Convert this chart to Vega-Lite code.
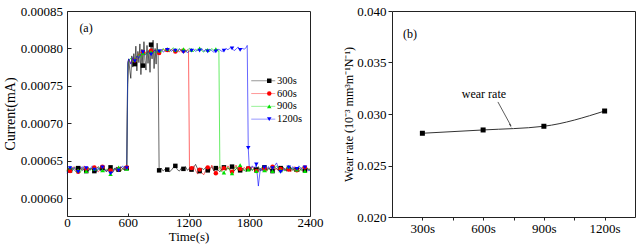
{
"$schema": "https://vega.github.io/schema/vega-lite/v6.json",
"padding": {"left": 2, "top": 4, "right": 0, "bottom": 0},
"autosize": {"type": "pad"},
"background": "white",
"config": {
  "font": "Liberation Serif",
  "view": {"stroke": "#222", "strokeWidth": 1},
  "axis": {"domain": false, "grid": false, "labelFont": "Liberation Serif", "titleFont": "Liberation Serif", "labelFontSize": 13, "titleFontWeight": "normal", "labelColor": "#000", "titleColor": "#000", "tickColor": "#222", "labelOverlap": false, "labelFlush": false},
  "legend": {"labelFont": "Liberation Serif", "labelColor": "#000"}
},
"spacing": 82,
"bounds": "flush",
"hconcat": [
{
  "width": 243, "height": 205,
  "data": {"values": [
{"s":"300s","t":0,"c":0.000636},{"s":"300s","t":10,"c":0.000639},{"s":"300s","t":30,"c":0.000637},{"s":"300s","t":50,"c":0.000641},{"s":"300s","t":70,"c":0.000638},{"s":"300s","t":90,"c":0.000635},{"s":"300s","t":110,"c":0.00064},{"s":"300s","t":130,"c":0.000642},{"s":"300s","t":150,"c":0.000637},{"s":"300s","t":170,"c":0.000639},{"s":"300s","t":190,"c":0.000636},{"s":"300s","t":210,"c":0.000641},{"s":"300s","t":230,"c":0.000638},{"s":"300s","t":250,"c":0.00064},{"s":"300s","t":270,"c":0.000636},{"s":"300s","t":290,"c":0.000639},{"s":"300s","t":310,"c":0.000642},{"s":"300s","t":330,"c":0.000637},{"s":"300s","t":350,"c":0.00064},{"s":"300s","t":370,"c":0.000638},{"s":"300s","t":390,"c":0.000635},{"s":"300s","t":410,"c":0.000639},{"s":"300s","t":430,"c":0.000641},{"s":"300s","t":450,"c":0.000637},{"s":"300s","t":470,"c":0.00064},{"s":"300s","t":490,"c":0.000636},{"s":"300s","t":510,"c":0.000638},{"s":"300s","t":530,"c":0.000642},{"s":"300s","t":550,"c":0.000639},{"s":"300s","t":570,"c":0.000637},{"s":"300s","t":590,"c":0.00064},
{"s":"300s","t":600,"c":0.000752},{"s":"300s","t":610,"c":0.000786},{"s":"300s","t":620,"c":0.000771},{"s":"300s","t":630,"c":0.00076},{"s":"300s","t":640,"c":0.00079},{"s":"300s","t":650,"c":0.000775},{"s":"300s","t":660,"c":0.000793},{"s":"300s","t":670,"c":0.000779},{"s":"300s","t":680,"c":0.000803},{"s":"300s","t":690,"c":0.00077},{"s":"300s","t":700,"c":0.000796},{"s":"300s","t":710,"c":0.000781},{"s":"300s","t":720,"c":0.000806},{"s":"300s","t":730,"c":0.000765},{"s":"300s","t":740,"c":0.000799},{"s":"300s","t":750,"c":0.000777},{"s":"300s","t":760,"c":0.000809},{"s":"300s","t":770,"c":0.000784},{"s":"300s","t":780,"c":0.000771},{"s":"300s","t":790,"c":0.000804},{"s":"300s","t":800,"c":0.00078},{"s":"300s","t":810,"c":0.000797},{"s":"300s","t":820,"c":0.000768},{"s":"300s","t":830,"c":0.000805},{"s":"300s","t":840,"c":0.000786},{"s":"300s","t":850,"c":0.000811},{"s":"300s","t":860,"c":0.000773},{"s":"300s","t":870,"c":0.0008},{"s":"300s","t":880,"c":0.000779},{"s":"300s","t":890,"c":0.000807},{"s":"300s","t":900,"c":0.00079},
{"s":"300s","t":910,"c":0.000637},{"s":"300s","t":930,"c":0.00064},{"s":"300s","t":950,"c":0.000636},{"s":"300s","t":970,"c":0.000639},{"s":"300s","t":990,"c":0.000638},{"s":"300s","t":1010,"c":0.000635},{"s":"300s","t":1030,"c":0.000637},{"s":"300s","t":1050,"c":0.000641},{"s":"300s","t":1070,"c":0.000643},{"s":"300s","t":1090,"c":0.000638},{"s":"300s","t":1110,"c":0.000636},{"s":"300s","t":1130,"c":0.00064},{"s":"300s","t":1150,"c":0.000639},{"s":"300s","t":1170,"c":0.000642},{"s":"300s","t":1190,"c":0.000637},{"s":"300s","t":1210,"c":0.00064},{"s":"300s","t":1230,"c":0.000638},{"s":"300s","t":1250,"c":0.000641},{"s":"300s","t":1270,"c":0.000645},{"s":"300s","t":1290,"c":0.000639},{"s":"300s","t":1310,"c":0.000636},{"s":"300s","t":1330,"c":0.00064},{"s":"300s","t":1350,"c":0.000638},{"s":"300s","t":1370,"c":0.000641},{"s":"300s","t":1390,"c":0.000637},{"s":"300s","t":1410,"c":0.000639},{"s":"300s","t":1430,"c":0.000642},{"s":"300s","t":1450,"c":0.000636},{"s":"300s","t":1470,"c":0.00064},{"s":"300s","t":1490,"c":0.000638},{"s":"300s","t":1510,"c":0.000635},{"s":"300s","t":1530,"c":0.000639},{"s":"300s","t":1550,"c":0.000641},{"s":"300s","t":1570,"c":0.000637},{"s":"300s","t":1590,"c":0.00064},{"s":"300s","t":1610,"c":0.000638},{"s":"300s","t":1630,"c":0.000642},{"s":"300s","t":1650,"c":0.000636},{"s":"300s","t":1670,"c":0.000639},{"s":"300s","t":1690,"c":0.000641},{"s":"300s","t":1710,"c":0.000637},{"s":"300s","t":1730,"c":0.00064},{"s":"300s","t":1750,"c":0.000638},{"s":"300s","t":1770,"c":0.000635},{"s":"300s","t":1790,"c":0.000639},{"s":"300s","t":1810,"c":0.000641},{"s":"300s","t":1830,"c":0.000637},{"s":"300s","t":1850,"c":0.00064},{"s":"300s","t":1870,"c":0.000638},{"s":"300s","t":1890,"c":0.000642},{"s":"300s","t":1910,"c":0.000636},{"s":"300s","t":1930,"c":0.000639},{"s":"300s","t":1950,"c":0.000641},{"s":"300s","t":1970,"c":0.000637},{"s":"300s","t":1990,"c":0.00064},{"s":"300s","t":2010,"c":0.000638},{"s":"300s","t":2030,"c":0.000636},{"s":"300s","t":2050,"c":0.000641},{"s":"300s","t":2070,"c":0.000639},{"s":"300s","t":2090,"c":0.000637},{"s":"300s","t":2110,"c":0.00064},{"s":"300s","t":2130,"c":0.000642},{"s":"300s","t":2150,"c":0.000638},{"s":"300s","t":2170,"c":0.000636},{"s":"300s","t":2190,"c":0.000639},{"s":"300s","t":2210,"c":0.000641},{"s":"300s","t":2230,"c":0.000637},{"s":"300s","t":2250,"c":0.00064},{"s":"300s","t":2270,"c":0.000638},{"s":"300s","t":2290,"c":0.000635},{"s":"300s","t":2310,"c":0.000639},{"s":"300s","t":2330,"c":0.000642},{"s":"300s","t":2350,"c":0.000637},{"s":"300s","t":2370,"c":0.00064},{"s":"300s","t":2390,"c":0.000638},{"s":"300s","t":2400,"c":0.000639},
{"s":"600s","t":0,"c":0.000637},{"s":"600s","t":10,"c":0.00064},{"s":"600s","t":30,"c":0.000636},{"s":"600s","t":50,"c":0.000639},{"s":"600s","t":70,"c":0.000642},{"s":"600s","t":90,"c":0.000637},{"s":"600s","t":110,"c":0.000635},{"s":"600s","t":130,"c":0.00064},{"s":"600s","t":150,"c":0.000638},{"s":"600s","t":170,"c":0.000643},{"s":"600s","t":190,"c":0.000639},{"s":"600s","t":210,"c":0.000636},{"s":"600s","t":230,"c":0.00064},{"s":"600s","t":250,"c":0.000638},{"s":"600s","t":270,"c":0.000641},{"s":"600s","t":290,"c":0.000637},{"s":"600s","t":310,"c":0.000635},{"s":"600s","t":330,"c":0.000639},{"s":"600s","t":350,"c":0.000642},{"s":"600s","t":370,"c":0.000638},{"s":"600s","t":390,"c":0.000636},{"s":"600s","t":410,"c":0.00064},{"s":"600s","t":430,"c":0.000637},{"s":"600s","t":450,"c":0.000634},{"s":"600s","t":470,"c":0.000638},{"s":"600s","t":490,"c":0.000641},{"s":"600s","t":510,"c":0.000639},{"s":"600s","t":530,"c":0.000636},{"s":"600s","t":550,"c":0.00064},{"s":"600s","t":570,"c":0.000638},{"s":"600s","t":590,"c":0.000641},
{"s":"600s","t":600,"c":0.000781},{"s":"600s","t":610,"c":0.000785},{"s":"600s","t":630,"c":0.00078},{"s":"600s","t":650,"c":0.000787},{"s":"600s","t":670,"c":0.000784},{"s":"600s","t":690,"c":0.000789},{"s":"600s","t":710,"c":0.000793},{"s":"600s","t":730,"c":0.00079},{"s":"600s","t":750,"c":0.000795},{"s":"600s","t":770,"c":0.000792},{"s":"600s","t":790,"c":0.000796},{"s":"600s","t":810,"c":0.000794},{"s":"600s","t":830,"c":0.000797},{"s":"600s","t":850,"c":0.000795},{"s":"600s","t":870,"c":0.000798},{"s":"600s","t":890,"c":0.000796},{"s":"600s","t":910,"c":0.000794},{"s":"600s","t":930,"c":0.000797},{"s":"600s","t":950,"c":0.000799},{"s":"600s","t":970,"c":0.000796},{"s":"600s","t":990,"c":0.000798},{"s":"600s","t":1010,"c":0.000795},{"s":"600s","t":1030,"c":0.000799},{"s":"600s","t":1050,"c":0.000797},{"s":"600s","t":1070,"c":0.000796},{"s":"600s","t":1090,"c":0.000798},{"s":"600s","t":1110,"c":0.000795},{"s":"600s","t":1130,"c":0.000799},{"s":"600s","t":1150,"c":0.000797},{"s":"600s","t":1170,"c":0.000796},{"s":"600s","t":1190,"c":0.000798},{"s":"600s","t":1200,"c":0.000797},
{"s":"600s","t":1210,"c":0.000636},{"s":"600s","t":1230,"c":0.00064},{"s":"600s","t":1250,"c":0.000643},{"s":"600s","t":1270,"c":0.000637},{"s":"600s","t":1290,"c":0.000632},{"s":"600s","t":1310,"c":0.000638},{"s":"600s","t":1330,"c":0.000634},{"s":"600s","t":1350,"c":0.000631},{"s":"600s","t":1370,"c":0.000637},{"s":"600s","t":1390,"c":0.000641},{"s":"600s","t":1410,"c":0.000636},{"s":"600s","t":1430,"c":0.000644},{"s":"600s","t":1450,"c":0.000638},{"s":"600s","t":1470,"c":0.000633},{"s":"600s","t":1490,"c":0.000639},{"s":"600s","t":1510,"c":0.000642},{"s":"600s","t":1530,"c":0.000636},{"s":"600s","t":1550,"c":0.00064},{"s":"600s","t":1570,"c":0.000637},{"s":"600s","t":1590,"c":0.000643},{"s":"600s","t":1610,"c":0.000638},{"s":"600s","t":1630,"c":0.000635},{"s":"600s","t":1650,"c":0.00064},{"s":"600s","t":1670,"c":0.000644},{"s":"600s","t":1690,"c":0.000637},{"s":"600s","t":1710,"c":0.000639},{"s":"600s","t":1730,"c":0.000636},{"s":"600s","t":1750,"c":0.000641},{"s":"600s","t":1770,"c":0.000638},{"s":"600s","t":1790,"c":0.00064},{"s":"600s","t":1810,"c":0.000637},{"s":"600s","t":1830,"c":0.000642},{"s":"600s","t":1850,"c":0.000638},{"s":"600s","t":1870,"c":0.000636},{"s":"600s","t":1890,"c":0.00064},{"s":"600s","t":1910,"c":0.000637},{"s":"600s","t":1930,"c":0.000641},{"s":"600s","t":1950,"c":0.000639},{"s":"600s","t":1970,"c":0.000636},{"s":"600s","t":1990,"c":0.00064},{"s":"600s","t":2010,"c":0.000638},{"s":"600s","t":2030,"c":0.000642},{"s":"600s","t":2050,"c":0.000637},{"s":"600s","t":2070,"c":0.00064},{"s":"600s","t":2090,"c":0.000636},{"s":"600s","t":2110,"c":0.000639},{"s":"600s","t":2130,"c":0.000641},{"s":"600s","t":2150,"c":0.000637},{"s":"600s","t":2170,"c":0.00064},{"s":"600s","t":2190,"c":0.000638},{"s":"600s","t":2210,"c":0.000635},{"s":"600s","t":2230,"c":0.000639},{"s":"600s","t":2250,"c":0.000642},{"s":"600s","t":2270,"c":0.000637},{"s":"600s","t":2290,"c":0.00064},{"s":"600s","t":2310,"c":0.000638},{"s":"600s","t":2330,"c":0.000636},{"s":"600s","t":2350,"c":0.000641},{"s":"600s","t":2370,"c":0.000637},{"s":"600s","t":2390,"c":0.000639},{"s":"600s","t":2400,"c":0.000638},
{"s":"900s","t":0,"c":0.000635},{"s":"900s","t":10,"c":0.000638},{"s":"900s","t":30,"c":0.000641},{"s":"900s","t":50,"c":0.000636},{"s":"900s","t":70,"c":0.000639},{"s":"900s","t":90,"c":0.000642},{"s":"900s","t":110,"c":0.000637},{"s":"900s","t":130,"c":0.000634},{"s":"900s","t":150,"c":0.000639},{"s":"900s","t":170,"c":0.000641},{"s":"900s","t":190,"c":0.000636},{"s":"900s","t":210,"c":0.00064},{"s":"900s","t":230,"c":0.000637},{"s":"900s","t":250,"c":0.000641},{"s":"900s","t":270,"c":0.000639},{"s":"900s","t":290,"c":0.000636},{"s":"900s","t":310,"c":0.000638},{"s":"900s","t":330,"c":0.000642},{"s":"900s","t":350,"c":0.000637},{"s":"900s","t":370,"c":0.000635},{"s":"900s","t":390,"c":0.000639},{"s":"900s","t":410,"c":0.000636},{"s":"900s","t":430,"c":0.000632},{"s":"900s","t":450,"c":0.000635},{"s":"900s","t":470,"c":0.00064},{"s":"900s","t":490,"c":0.000638},{"s":"900s","t":510,"c":0.000641},{"s":"900s","t":530,"c":0.000636},{"s":"900s","t":550,"c":0.000639},{"s":"900s","t":570,"c":0.000642},{"s":"900s","t":590,"c":0.000639},
{"s":"900s","t":600,"c":0.000779},{"s":"900s","t":610,"c":0.000784},{"s":"900s","t":630,"c":0.000787},{"s":"900s","t":650,"c":0.000781},{"s":"900s","t":670,"c":0.000785},{"s":"900s","t":690,"c":0.000789},{"s":"900s","t":710,"c":0.000792},{"s":"900s","t":730,"c":0.000788},{"s":"900s","t":750,"c":0.000794},{"s":"900s","t":770,"c":0.000796},{"s":"900s","t":790,"c":0.000792},{"s":"900s","t":810,"c":0.000798},{"s":"900s","t":830,"c":0.000795},{"s":"900s","t":850,"c":0.000797},{"s":"900s","t":870,"c":0.000794},{"s":"900s","t":890,"c":0.000799},{"s":"900s","t":910,"c":0.000797},{"s":"900s","t":930,"c":0.000795},{"s":"900s","t":950,"c":0.0008},{"s":"900s","t":970,"c":0.000797},{"s":"900s","t":990,"c":0.000799},{"s":"900s","t":1010,"c":0.000796},{"s":"900s","t":1030,"c":0.000798},{"s":"900s","t":1050,"c":0.000801},{"s":"900s","t":1070,"c":0.000798},{"s":"900s","t":1090,"c":0.000796},{"s":"900s","t":1110,"c":0.0008},{"s":"900s","t":1130,"c":0.000797},{"s":"900s","t":1150,"c":0.000799},{"s":"900s","t":1170,"c":0.000795},{"s":"900s","t":1190,"c":0.000798},{"s":"900s","t":1210,"c":0.0008},{"s":"900s","t":1230,"c":0.000798},{"s":"900s","t":1250,"c":0.000796},{"s":"900s","t":1270,"c":0.000799},{"s":"900s","t":1290,"c":0.000797},{"s":"900s","t":1310,"c":0.0008},{"s":"900s","t":1330,"c":0.000797},{"s":"900s","t":1350,"c":0.000795},{"s":"900s","t":1370,"c":0.000799},{"s":"900s","t":1390,"c":0.000798},{"s":"900s","t":1410,"c":0.000796},{"s":"900s","t":1430,"c":0.0008},{"s":"900s","t":1450,"c":0.000797},{"s":"900s","t":1470,"c":0.000799},{"s":"900s","t":1490,"c":0.000796},{"s":"900s","t":1500,"c":0.000797},
{"s":"900s","t":1510,"c":0.000638},{"s":"900s","t":1530,"c":0.000635},{"s":"900s","t":1550,"c":0.000634},{"s":"900s","t":1570,"c":0.000639},{"s":"900s","t":1590,"c":0.000641},{"s":"900s","t":1610,"c":0.000636},{"s":"900s","t":1630,"c":0.000633},{"s":"900s","t":1650,"c":0.000638},{"s":"900s","t":1670,"c":0.000642},{"s":"900s","t":1690,"c":0.000637},{"s":"900s","t":1710,"c":0.000644},{"s":"900s","t":1730,"c":0.000639},{"s":"900s","t":1750,"c":0.000636},{"s":"900s","t":1770,"c":0.00064},{"s":"900s","t":1790,"c":0.000638},{"s":"900s","t":1810,"c":0.000641},{"s":"900s","t":1830,"c":0.000637},{"s":"900s","t":1850,"c":0.000639},{"s":"900s","t":1870,"c":0.000636},{"s":"900s","t":1890,"c":0.00064},{"s":"900s","t":1910,"c":0.000638},{"s":"900s","t":1930,"c":0.000642},{"s":"900s","t":1950,"c":0.000637},{"s":"900s","t":1970,"c":0.000635},{"s":"900s","t":1990,"c":0.000639},{"s":"900s","t":2010,"c":0.000641},{"s":"900s","t":2030,"c":0.000636},{"s":"900s","t":2050,"c":0.00064},{"s":"900s","t":2070,"c":0.000643},{"s":"900s","t":2090,"c":0.000638},{"s":"900s","t":2110,"c":0.000637},{"s":"900s","t":2130,"c":0.000641},{"s":"900s","t":2150,"c":0.000636},{"s":"900s","t":2170,"c":0.000639},{"s":"900s","t":2190,"c":0.000642},{"s":"900s","t":2210,"c":0.000637},{"s":"900s","t":2230,"c":0.00064},{"s":"900s","t":2250,"c":0.000635},{"s":"900s","t":2270,"c":0.000638},{"s":"900s","t":2290,"c":0.000641},{"s":"900s","t":2310,"c":0.000637},{"s":"900s","t":2330,"c":0.000639},{"s":"900s","t":2350,"c":0.000636},{"s":"900s","t":2370,"c":0.00064},{"s":"900s","t":2390,"c":0.000638},{"s":"900s","t":2400,"c":0.000637},
{"s":"1200s","t":0,"c":0.000633},{"s":"1200s","t":10,"c":0.000636},{"s":"1200s","t":30,"c":0.00064},{"s":"1200s","t":50,"c":0.000637},{"s":"1200s","t":70,"c":0.000641},{"s":"1200s","t":90,"c":0.000638},{"s":"1200s","t":110,"c":0.000635},{"s":"1200s","t":130,"c":0.000639},{"s":"1200s","t":150,"c":0.000642},{"s":"1200s","t":170,"c":0.000637},{"s":"1200s","t":190,"c":0.00064},{"s":"1200s","t":210,"c":0.000636},{"s":"1200s","t":230,"c":0.000639},{"s":"1200s","t":250,"c":0.000643},{"s":"1200s","t":270,"c":0.000638},{"s":"1200s","t":290,"c":0.000635},{"s":"1200s","t":310,"c":0.00064},{"s":"1200s","t":330,"c":0.000637},{"s":"1200s","t":350,"c":0.000641},{"s":"1200s","t":370,"c":0.000639},{"s":"1200s","t":390,"c":0.000636},{"s":"1200s","t":410,"c":0.000638},{"s":"1200s","t":430,"c":0.000633},{"s":"1200s","t":450,"c":0.000634},{"s":"1200s","t":470,"c":0.000639},{"s":"1200s","t":490,"c":0.000641},{"s":"1200s","t":510,"c":0.000637},{"s":"1200s","t":530,"c":0.00064},{"s":"1200s","t":550,"c":0.000643},{"s":"1200s","t":570,"c":0.000638},{"s":"1200s","t":590,"c":0.00064},
{"s":"1200s","t":600,"c":0.000782},{"s":"1200s","t":610,"c":0.000786},{"s":"1200s","t":630,"c":0.000779},{"s":"1200s","t":650,"c":0.000788},{"s":"1200s","t":670,"c":0.000783},{"s":"1200s","t":690,"c":0.00079},{"s":"1200s","t":710,"c":0.000787},{"s":"1200s","t":730,"c":0.000793},{"s":"1200s","t":750,"c":0.000795},{"s":"1200s","t":770,"c":0.000791},{"s":"1200s","t":790,"c":0.000794},{"s":"1200s","t":810,"c":0.000797},{"s":"1200s","t":830,"c":0.000792},{"s":"1200s","t":850,"c":0.000795},{"s":"1200s","t":870,"c":0.000798},{"s":"1200s","t":890,"c":0.000794},{"s":"1200s","t":910,"c":0.000796},{"s":"1200s","t":930,"c":0.000799},{"s":"1200s","t":950,"c":0.000795},{"s":"1200s","t":970,"c":0.000797},{"s":"1200s","t":990,"c":0.000798},{"s":"1200s","t":1010,"c":0.0008},{"s":"1200s","t":1030,"c":0.000796},{"s":"1200s","t":1050,"c":0.000798},{"s":"1200s","t":1070,"c":0.000797},{"s":"1200s","t":1090,"c":0.000795},{"s":"1200s","t":1110,"c":0.000799},{"s":"1200s","t":1130,"c":0.000797},{"s":"1200s","t":1150,"c":0.000795},{"s":"1200s","t":1170,"c":0.000798},{"s":"1200s","t":1190,"c":0.000794},{"s":"1200s","t":1210,"c":0.000797},{"s":"1200s","t":1230,"c":0.000797},{"s":"1200s","t":1250,"c":0.000799},{"s":"1200s","t":1270,"c":0.000796},{"s":"1200s","t":1290,"c":0.000798},{"s":"1200s","t":1310,"c":0.000797},{"s":"1200s","t":1330,"c":0.0008},{"s":"1200s","t":1350,"c":0.000796},{"s":"1200s","t":1370,"c":0.000798},{"s":"1200s","t":1390,"c":0.000796},{"s":"1200s","t":1410,"c":0.000799},{"s":"1200s","t":1430,"c":0.000797},{"s":"1200s","t":1450,"c":0.000795},{"s":"1200s","t":1470,"c":0.000796},{"s":"1200s","t":1490,"c":0.000799},{"s":"1200s","t":1510,"c":0.000798},{"s":"1200s","t":1530,"c":0.000796},{"s":"1200s","t":1550,"c":0.000797},{"s":"1200s","t":1570,"c":0.0008},{"s":"1200s","t":1590,"c":0.000798},{"s":"1200s","t":1610,"c":0.000801},{"s":"1200s","t":1630,"c":0.0008},{"s":"1200s","t":1650,"c":0.000797},{"s":"1200s","t":1670,"c":0.000799},{"s":"1200s","t":1690,"c":0.000802},{"s":"1200s","t":1710,"c":0.000798},{"s":"1200s","t":1730,"c":0.0008},{"s":"1200s","t":1750,"c":0.000799},{"s":"1200s","t":1770,"c":0.000801},{"s":"1200s","t":1780,"c":0.000804},{"s":"1200s","t":1790,"c":0.000667},{"s":"1200s","t":1800,"c":0.000641},
{"s":"1200s","t":1810,"c":0.000638},{"s":"1200s","t":1830,"c":0.000643},{"s":"1200s","t":1850,"c":0.00064},{"s":"1200s","t":1870,"c":0.000645},{"s":"1200s","t":1890,"c":0.000616},{"s":"1200s","t":1910,"c":0.00064},{"s":"1200s","t":1930,"c":0.000636},{"s":"1200s","t":1950,"c":0.000641},{"s":"1200s","t":1970,"c":0.000638},{"s":"1200s","t":1990,"c":0.000642},{"s":"1200s","t":2010,"c":0.000637},{"s":"1200s","t":2030,"c":0.00064},{"s":"1200s","t":2050,"c":0.000643},{"s":"1200s","t":2070,"c":0.000647},{"s":"1200s","t":2090,"c":0.000639},{"s":"1200s","t":2110,"c":0.000635},{"s":"1200s","t":2130,"c":0.000636},{"s":"1200s","t":2150,"c":0.00064},{"s":"1200s","t":2170,"c":0.000637},{"s":"1200s","t":2190,"c":0.000641},{"s":"1200s","t":2210,"c":0.000638},{"s":"1200s","t":2230,"c":0.000642},{"s":"1200s","t":2250,"c":0.000636},{"s":"1200s","t":2270,"c":0.000639},{"s":"1200s","t":2290,"c":0.000643},{"s":"1200s","t":2310,"c":0.00064},{"s":"1200s","t":2330,"c":0.000637},{"s":"1200s","t":2350,"c":0.000641},{"s":"1200s","t":2370,"c":0.000639},{"s":"1200s","t":2390,"c":0.000636},{"s":"1200s","t":2400,"c":0.000638}
  ]},
  "layer": [
    {
      "mark": {"type": "line", "strokeWidth": 0.6},
      "encoding": {
        "x": {"field": "t", "type": "quantitative", "scale": {"domain": [0, 2400], "nice": false, "zero": false},
              "axis": {"title": "Time(s)", "values": [0,300,600,900,1200,1500,1800,2100,2400], "labelExpr": "datum.value % 600 == 0 ? format(datum.value, 'd') : ''", "tickSize": -3, "labelPadding": 3, "titleFontSize": 13, "titlePadding": 1.5}},
        "y": {"field": "c", "type": "quantitative", "scale": {"domain": [0.000576, 0.00085], "nice": false, "zero": false},
              "axis": {"title": "Current(mA)", "values": [0.0006,0.000625,0.00065,0.000675,0.0007,0.000725,0.00075,0.000775,0.0008,0.000825,0.00085], "labelExpr": "round(datum.value*1e6) % 50 == 0 ? format(datum.value, '.5f') : ''", "tickSize": {"condition": {"test": "round(datum.value*1e6) % 50 != 0", "value": -2}, "value": -4}, "labelPadding": 8.5, "titleFontSize": 14, "titlePadding": 3}},
        "color": {"field": "s", "type": "nominal", "scale": {"domain": ["300s","600s","900s","1200s"], "range": ["#000000","#ff0000","#00e000","#0000ff"]},
                  "legend": {"orient": "none", "legendX": 191, "legendY": 64.5, "title": null, "symbolType": "M-3,0H3", "symbolSize": 64, "symbolStrokeWidth": 1, "symbolOpacity": 0.4, "labelFontSize": 10.5, "labelOffset": 8.5, "rowPadding": 1.8, "padding": 0}}
      }
    },
    {
      "transform": [{"filter": "datum.t % 80 == 30"}],
      "mark": {"type": "point", "filled": true, "size": 20, "opacity": 1},
      "encoding": {
        "x": {"field": "t", "type": "quantitative"},
        "y": {"field": "c", "type": "quantitative"},
        "color": {"field": "s", "type": "nominal", "legend": {"orient": "none", "legendX": 197, "legendY": 64.5, "title": null, "symbolSize": 20, "labelFontSize": 10.5, "labelExpr": "''", "rowPadding": 1.8, "padding": 0}},
        "shape": {"field": "s", "type": "nominal", "scale": {"domain": ["300s","600s","900s","1200s"], "range": ["square","circle","triangle-up","triangle-down"]},
                  "legend": {"orient": "none", "legendX": 197, "legendY": 64.5, "title": null, "symbolSize": 20, "labelFontSize": 10.5, "labelExpr": "''", "rowPadding": 1.8, "padding": 0}}
      }
    },
    {
      "data": {"values": [{}]},
      "mark": {"type": "text", "fontSize": 12, "font": "Liberation Serif", "color": "#000"},
      "encoding": {"x": {"datum": 188}, "y": {"datum": 0.000827}, "text": {"value": "(a)"}}
    }
  ],
  "resolve": {"legend": {"color": "independent", "shape": "independent"}}
},
{
  "width": 243, "height": 206,
  "data": {"values": [
    {"d": 300, "w": 0.02813},
    {"d": 600, "w": 0.02845},
    {"d": 900, "w": 0.02881},
    {"d": 1200, "w": 0.03029}
  ]},
  "layer": [
    {
      "mark": {"type": "line", "interpolate": "monotone", "color": "#333", "strokeWidth": 1},
      "encoding": {
        "x": {"field": "d", "type": "quantitative", "scale": {"domain": [150, 1350], "nice": false, "zero": false},
              "axis": {"title": null, "values": [300,450,600,750,900,1050,1200], "labelExpr": "datum.value % 300 == 0 ? datum.value + 's' : ''", "tickSize": 3, "labelPadding": 2}},
        "y": {"field": "w", "type": "quantitative", "scale": {"domain": [0.02, 0.04], "nice": false, "zero": false},
              "axis": {"title": "Wear rate (10⁻³ mm³m⁻¹N⁻¹)", "values": [0.02,0.0225,0.025,0.0275,0.03,0.0325,0.035,0.0375,0.04], "labelExpr": "round(datum.value*1e4) % 50 == 0 ? format(datum.value, '.3f') : ''", "tickSize": {"condition": {"test": "round(datum.value*1e4) % 50 != 0", "value": 2}, "value": 4}, "labelPadding": 2, "titleFontSize": 12, "titlePadding": 1}}
      }
    },
    {
      "mark": {"type": "point", "shape": "square", "filled": true, "size": 25, "color": "#000", "opacity": 1},
      "encoding": {"x": {"field": "d", "type": "quantitative"}, "y": {"field": "w", "type": "quantitative"}}
    },
    {
      "data": {"values": [{}]},
      "mark": {"type": "text", "fontSize": 12, "font": "Liberation Serif", "color": "#000"},
      "encoding": {"x": {"datum": 604}, "y": {"datum": 0.03194}, "text": {"value": "wear rate"}}
    },
    {
      "data": {"values": [{}]},
      "mark": {"type": "rule", "color": "#333", "strokeWidth": 0.8},
      "encoding": {"x": {"datum": 673}, "y": {"datum": 0.03117}, "x2": {"datum": 738}, "y2": {"datum": 0.02883}}
    },
    {
      "data": {"values": [{}]},
      "mark": {"type": "point", "shape": "wedge", "angle": 152, "size": 25, "filled": true, "color": "#333", "opacity": 1},
      "encoding": {"x": {"datum": 734}, "y": {"datum": 0.0289}}
    },
    {
      "data": {"values": [{}]},
      "mark": {"type": "text", "fontSize": 12, "font": "Liberation Serif", "color": "#000"},
      "encoding": {"x": {"datum": 239}, "y": {"datum": 0.03777}, "text": {"value": "(b)"}}
    }
  ]
}
]
}
